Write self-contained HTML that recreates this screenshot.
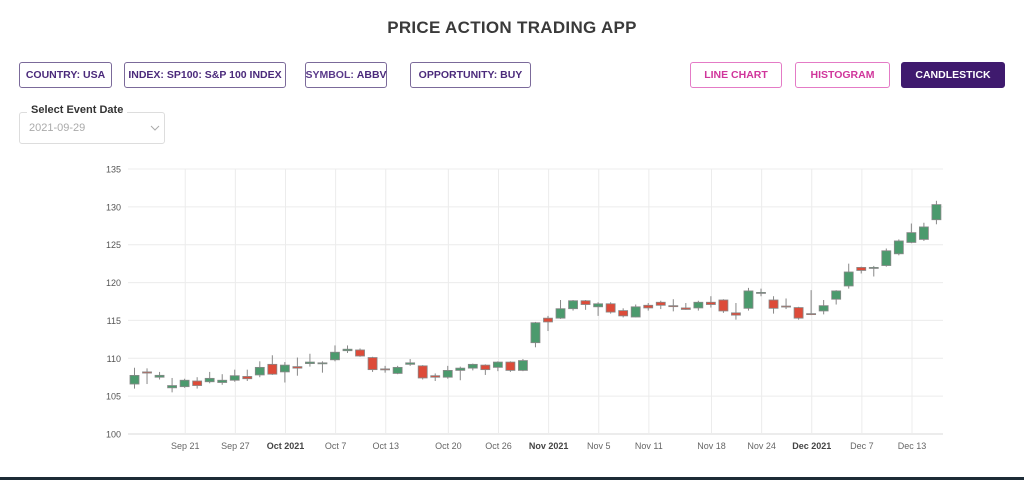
<!DOCTYPE html>
<html><head><meta charset="utf-8">
<style>
body{margin:0;width:1024px;height:480px;background:#fff;font-family:"Liberation Sans",sans-serif;position:relative;overflow:hidden}
.t{position:absolute;left:0;width:1024px;top:18px;text-align:center;font-weight:bold;font-size:17px;color:#3a3a3a;letter-spacing:0.3px}
.b{position:absolute;top:62px;height:26px;border:1px solid #7b6a9a;border-radius:3px;box-sizing:border-box;font-size:10.5px;font-weight:bold;color:#4b2a7b;display:flex;align-items:center;justify-content:center;white-space:nowrap}
.p{border-color:#e47bc6;color:#d0359b}
.f{background:#3f1a6e;border-color:#3f1a6e;color:#fff}
.sel{position:absolute;left:19px;top:112px;width:146px;height:32px;border:1px solid #ddd;border-radius:3px;box-sizing:border-box}
.lab{position:absolute;left:27px;top:104px;background:#fff;padding:0 4px;font-size:11px;font-weight:bold;color:#333}
.val{position:absolute;left:29px;top:122px;font-size:11px;color:#aaa}
.bar{position:absolute;left:0;top:477px;width:1024px;height:3px;background:#1d2b36}
</style></head><body>
<div class="t">PRICE ACTION TRADING APP</div>
<div class="b" style="left:19px;width:93px">COUNTRY: USA</div>
<div class="b" style="left:124px;width:162px">INDEX: SP100: S&amp;P 100 INDEX</div>
<div class="b" style="left:305px;width:82px"><span style="font-weight:600;color:#5a3a8a">SYMBOL:&nbsp;</span>ABBV</div>
<div class="b" style="left:410px;width:121px">OPPORTUNITY: BUY</div>
<div class="b p" style="left:690px;width:92px">LINE CHART</div>
<div class="b p" style="left:795px;width:95px">HISTOGRAM</div>
<div class="b f" style="left:901px;width:104px">CANDLESTICK</div>
<div class="sel"></div>
<div class="lab">Select Event Date</div>
<div class="val">2021-09-29</div>
<svg style="position:absolute;left:150px;top:124px" width="10" height="8"><polyline points="1,2 5,6 9,2" fill="none" stroke="#aaa" stroke-width="1"/></svg>
<svg id="c" style="position:absolute;left:0;top:0" width="1024" height="480"></svg>
<div class="bar"></div>
<script>
const opens=[106.6,108.2,107.5,106.1,106.25,107.0,106.9,106.8,107.1,107.6,107.8,109.2,108.2,108.9,109.3,109.3,109.8,111.0,111.1,110.1,108.6,108.0,109.2,109.0,107.7,107.5,108.4,108.7,109.1,108.8,109.5,108.4,112.06,115.3,115.3,116.55,117.6,116.8,117.2,116.3,115.45,117.0,117.4,116.95,116.65,116.65,117.4,117.7,116.0,116.6,118.7,117.7,116.9,116.7,115.9,116.25,117.8,119.55,122.0,122.0,122.25,123.8,125.3,125.7,128.3];
const closes=[107.74,108.05,107.75,106.4,107.1,106.4,107.35,107.1,107.7,107.3,108.8,107.9,109.1,108.7,109.5,109.4,110.8,111.2,110.3,108.5,108.5,108.8,109.4,107.4,107.5,108.4,108.7,109.2,108.5,109.5,108.4,109.7,114.7,114.8,116.55,117.6,117.1,117.2,116.1,115.6,116.8,116.65,117.0,116.9,116.45,117.4,117.1,116.25,115.7,118.9,118.7,116.6,116.85,115.3,115.85,116.95,118.9,121.4,121.6,122.0,124.2,125.5,126.6,127.35,130.3];
const highs=[108.75,108.67,108.2,107.4,107.3,107.5,108.2,107.9,108.5,108.5,109.6,110.4,109.5,110.1,110.6,109.6,111.7,111.7,111.3,110.2,109.0,109.0,109.9,109.1,108.0,109.0,108.9,109.3,109.2,109.6,109.6,109.9,114.8,115.6,117.7,117.7,117.7,117.4,117.4,116.6,117.1,117.3,117.6,117.8,117.3,117.6,118.2,117.8,117.3,119.3,119.2,118.2,117.9,116.8,119.0,117.7,119.0,122.5,122.1,122.2,124.5,125.7,127.8,127.9,130.8];
const lows=[106.0,106.6,107.2,105.5,106.1,106.0,106.7,106.5,106.9,107.0,107.5,107.8,106.8,107.7,108.9,108.1,109.6,110.7,110.2,108.2,108.1,107.9,109.0,107.2,107.0,107.3,107.1,108.4,107.8,108.3,108.2,108.3,111.45,113.6,115.2,116.3,116.4,115.6,115.9,115.4,115.4,116.3,116.5,116.2,116.4,116.3,116.7,116.0,115.1,116.3,118.2,115.9,116.5,115.1,115.7,115.8,117.1,119.2,121.2,120.8,122.1,123.6,125.2,125.5,127.7];
const yTicks=[100,105,110,115,120,125,130,135];
const xTickLabels=["Sep 21","Sep 27","Oct 2021","Oct 7","Oct 13","Oct 20","Oct 26","Nov 2021","Nov 5","Nov 11","Nov 18","Nov 24","Dec 2021","Dec 7","Dec 13"];
const xTickIdx=[4.05,8.05,12.05,16.05,20.05,25.05,29.05,33.05,37.05,41.05,46.05,50.05,54.05,58.05,62.05];
const boldTicks=["Oct 2021","Nov 2021","Dec 2021"];
const svg=document.getElementById('c');const NS='http://www.w3.org/2000/svg';
const X0=128,X1=943,Y0=434,Y1=169;
const sx=i=>134.5+i*12.53;
const sy=v=>Y0-(v-100)/35*(Y0-Y1);
function mk(t,a,p){const e=document.createElementNS(NS,t);for(const k in a)e.setAttribute(k,a[k]);(p||svg).appendChild(e);return e;}
yTicks.forEach(v=>{
 const l=mk('line',{x1:X0,x2:X1,y1:sy(v),y2:sy(v),stroke:v===100?'#d8d8d8':'#ececec','stroke-width':1});
 
 
 const t=mk('text',{x:121,y:sy(v)+3.5,'text-anchor':'end','font-size':9,fill:'#555','font-family':'Liberation Sans, sans-serif'});
 t.textContent=v;
 
 
});
xTickLabels.forEach((s,k)=>{
 const x=sx(xTickIdx[k]);
 const l=mk('line',{x1:x,x2:x,y1:Y1,y2:Y0,stroke:'#ececec','stroke-width':1});
 
 
 const t=mk('text',{x:x,y:449,'text-anchor':'middle','font-size':9,fill:boldTicks.includes(s)?'#444':'#666','font-weight':boldTicks.includes(s)?'bold':'normal','font-family':'Liberation Sans, sans-serif'});
 t.textContent=s;
 
 
});
opens.forEach((o,i)=>{
 const c=closes[i],x=sx(i),up=c>=o;
 const g=mk('g',{});
 
 
 mk('line',{x1:x,x2:x,y1:sy(highs[i]),y2:sy(lows[i]),stroke:'#888','stroke-width':1},g);
 const top=sy(Math.max(o,c)),bot=sy(Math.min(o,c));
 mk('rect',{x:x-4.5,y:top,width:9,height:Math.max(bot-top,1),fill:up?'#4b9a6d':'#dd4b39',stroke:'#888','stroke-width':0.8},g);
});
</script>
</body></html>
